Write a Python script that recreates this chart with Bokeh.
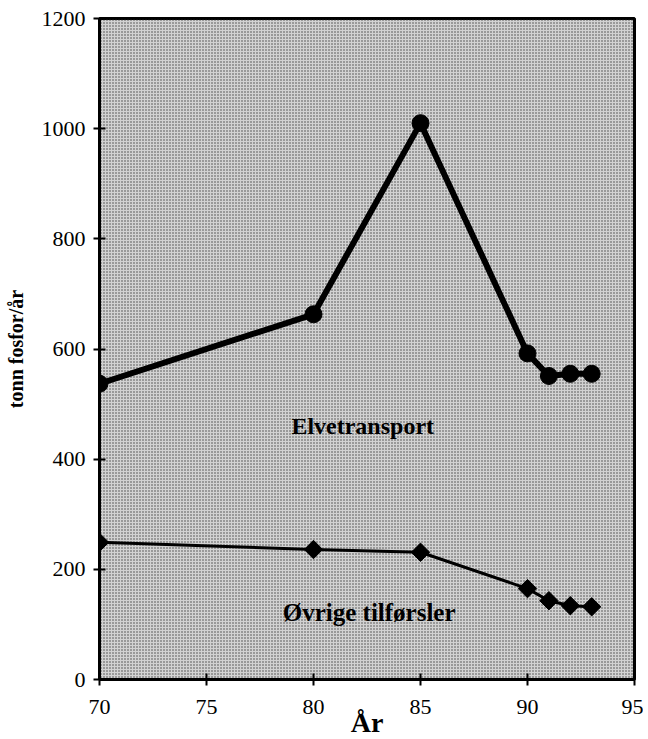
import math
from bokeh.plotting import figure
from bokeh.models import Range1d, FixedTicker, BoxAnnotation, Label
from bokeh.embed import file_html
from bokeh.resources import INLINE

years = [70, 80, 85, 90, 91, 92, 93]
elvetransport = [537, 663, 1010, 592, 551, 555, 555]
ovrige = [249, 236, 231, 165, 143, 134, 132]
x_ticks = [70, 75, 80, 85, 90, 95]
y_ticks = [0, 200, 400, 600, 800, 1000, 1200]

FONT = "Liberation Serif"

p = figure(width=643, height=731, output_backend="svg", toolbar_location=None,
           x_range=Range1d(70, 95), y_range=Range1d(0, 1200),
           min_border_left=99, min_border_right=9, min_border_top=18, min_border_bottom=52)
p.frame_width = 535
p.frame_height = 661

p.background_fill_color = "#d2d2d2"
p.border_fill_color = "white"
p.outline_line_color = "black"
p.outline_line_width = 3
p.xgrid.visible = False
p.ygrid.visible = False

p.add_layout(BoxAnnotation(left=70, right=95, bottom=0, top=1200, fill_alpha=0,
                           line_alpha=0, hatch_pattern="dot", hatch_color="#222222",
                           hatch_scale=3, hatch_weight=1, hatch_alpha=0.8, level="underlay"))

for ax in (p.xaxis[0], p.yaxis[0]):
    ax.axis_line_width = 3
    ax.axis_line_color = "black"
    ax.major_tick_in = 6
    ax.major_tick_out = 6
    ax.major_tick_line_width = 2
    ax.minor_tick_line_color = None
    ax.major_label_text_font = FONT
    ax.major_label_text_font_size = "22px"
    ax.major_label_text_color = "black"
    ax.axis_label_text_font = FONT
    ax.axis_label_text_font_style = "bold"
    ax.axis_label_text_color = "black"

p.xaxis.ticker = FixedTicker(ticks=x_ticks)
p.yaxis.ticker = FixedTicker(ticks=y_ticks)
p.xaxis.major_label_standoff = 14
p.yaxis.major_label_standoff = 8
p.xaxis.axis_label = "År"
p.xaxis.axis_label_text_font_size = "28px"
p.xaxis.axis_label_standoff = -10
p.yaxis.axis_label = "tonn fosfor/år"
p.yaxis.axis_label_text_font_size = "20px"
p.yaxis.axis_label_standoff = 12

p.line(years, elvetransport, line_width=6, line_color="black")
p.scatter(years, elvetransport, marker="circle", size=17, fill_color="black", line_color="black")

p.line(years, ovrige, line_width=3, line_color="black")
p.scatter(years, ovrige, marker="square", angle=math.pi / 4, size=13,
          fill_color="black", line_color="black")

p.add_layout(Label(x=82.3, y=461, text="Elvetransport", text_font=FONT,
                   text_font_style="bold", text_font_size="24px", text_align="center",
                   text_baseline="middle", text_color="black"))
p.add_layout(Label(x=82.6, y=122, text="Øvrige tilførsler", text_font=FONT,
                   text_font_style="bold", text_font_size="25px", text_align="center",
                   text_baseline="middle", text_color="black"))

open("out.html", "w").write(file_html(p, INLINE))
